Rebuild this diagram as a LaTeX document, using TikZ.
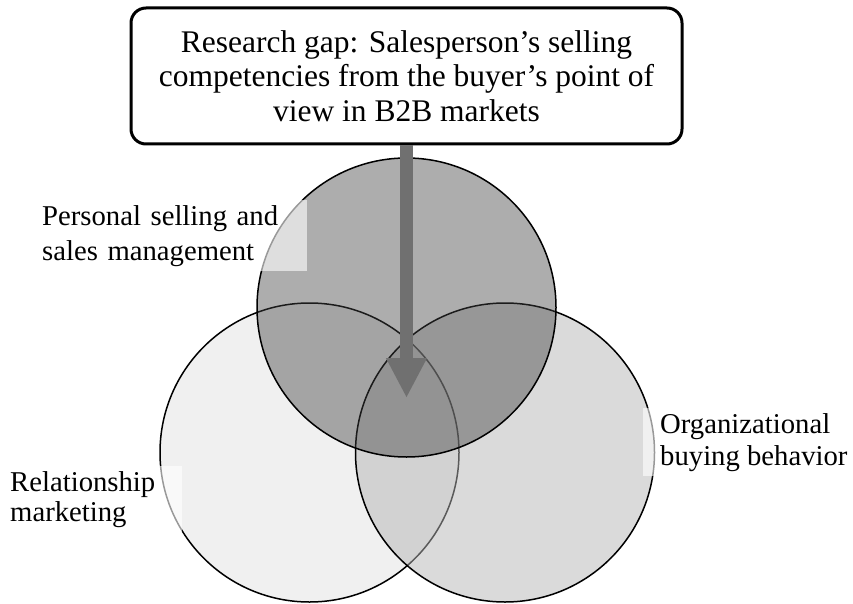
\documentclass[tikz,border=0pt]{standalone}
\usepackage{fontspec}
\setmainfont{Liberation Serif}
\usetikzlibrary{arrows.meta}

\begin{document}
\begin{tikzpicture}[x=1pt,y=-1pt,>={Triangle[width=38pt,length=40pt]},
      font=\fontsize{28.7}{35}\selectfont]
    \tikzstyle{venn}=[circle,draw=black,line width=1.5pt,inner sep=0pt,minimum size=299pt]
    \tikzstyle{area}=[fill=white,fill opacity=0.6,text opacity=1,align=left,inner ysep=5pt,anchor=north west]
    \tikzstyle{gapbox}=[draw,line width=3pt,rounded corners=15pt,fill=white,align=center,
      minimum width=551pt,minimum height=136pt,text depth=-6pt,font=\fontsize{31.5}{34.5}\selectfont]
    \tikzstyle{gaparrow}=[->,draw=black!56,line width=13pt]

    \useasboundingbox (0,0) rectangle (853,604);

    \node[venn,fill=black!6]                     (rm)  at (309.5,452.5) {};
    \node[venn,fill=black!29,fill opacity=0.5]   (obb) at (505,452.5)   {};
    \node[venn,fill=black!75,fill opacity=0.43]  (pss) at (406.5,307.5) {};

    \node[area,text width=265pt,inner xsep=0pt] (pssl) at (42,200)
      {Personal selling and\\sales management};
    \node[area,text width=172pt,inner xsep=0pt,font=\fontsize{28.7}{30}\selectfont] (rml) at (10,466)
      {Relationship\\marketing};
    \node[area,inner xsep=17pt,font=\fontsize{28.7}{32}\selectfont] (obbl) at (643,408)
      {Organizational\\buying behavior};

    \node[gapbox] (gap) at (406.5,76)
      {Research gap: Salesperson’s selling\\competencies from the buyer’s point of\\view in B2B markets};

    \coordinate (tip) at (406.5,398);
    \draw[gaparrow] (gap) -- (tip);
  \end{tikzpicture}
\end{document}
